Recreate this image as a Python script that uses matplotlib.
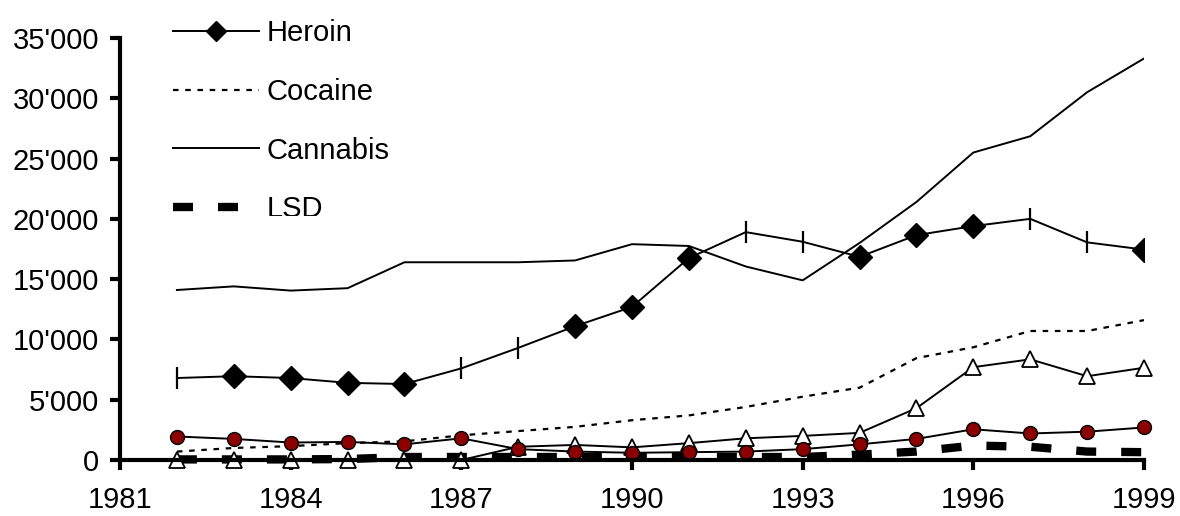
import matplotlib.pyplot as plt
import matplotlib.ticker as mticker
from matplotlib.patches import Rectangle

plt.rcParams['font.family'] = ['Liberation Sans', 'DejaVu Sans']

years = list(range(1982, 2000))
heroin = [6800, 6950, 6800, 6400, 6300, 7600, 9300, 11100, 12700, 16750,
          18900, 18100, 16850, 18650, 19400, 20000, 18050, 17450]
cocaine = [700, 1000, 1150, 1400, 1550, 2050, 2400, 2750, 3300, 3700,
           4400, 5250, 6000, 8450, 9350, 10700, 10700, 11600]
cannabis = [14100, 14400, 14050, 14250, 16400, 16400, 16400, 16550, 17900, 17750,
            16050, 14900, 18000, 21400, 25500, 26850, 30500, 33300]
lsd = [50, 50, 50, 80, 250, 250, 250, 250, 250, 250,
       250, 250, 450, 700, 1200, 1100, 700, 650]
triangles = [0, 0, 0, 0, 0, 0, 1100, 1250, 1050, 1400,
             1800, 2000, 2250, 4300, 7700, 8350, 6950, 7650]
circles = [1950, 1750, 1450, 1500, 1300, 1800, 900, 700, 600, 650,
           700, 900, 1300, 1750, 2550, 2200, 2350, 2700]

# heroin uses two marker shapes
diamond_idx = [1, 2, 3, 4, 7, 8, 9, 12, 13, 14, 17]
bar_idx = [0, 5, 6, 10, 11, 15, 16]

fig = plt.figure(figsize=(11.8, 5.16), dpi=100)
ax = fig.add_axes([0.1017, 0.1085, 0.8678, 0.8179])

ax.plot(years, cannabis, color='black', lw=1.4, label='Cannabis')
ax.plot(years, cocaine, color='black', lw=1.6, linestyle=(0, (2.5, 3)), label='Cocaine')
ax.plot(years, lsd, color='black', lw=6, linestyle=(0, (2.4, 3)), dash_capstyle='butt',
        label='LSD', clip_on=False)
ax.plot(years, triangles, color='black', lw=1.4, marker='^', markersize=11,
        markerfacecolor='white', markeredgecolor='black', markeredgewidth=1.3, clip_on=False)
ax.plot(years, circles, color='black', lw=1.4, marker='o', markersize=10,
        markerfacecolor='#8b0000', markeredgecolor='black', markeredgewidth=1.0, clip_on=False)
ax.plot(years, heroin, color='black', lw=1.4, marker='|', markersize=16, markeredgewidth=1.6,
        markevery=bar_idx)
ax.plot(years, heroin, color='none', marker='D', markersize=12, markerfacecolor='black',
        markeredgecolor='black', markevery=diamond_idx)
heroin_handle, = ax.plot([], [], color='black', lw=1.4, marker='D', markersize=10)

ax.set_xlim(1981, 1999)
ax.set_ylim(0, 35000)
ax.set_xticks(range(1981, 2000, 3))
ax.set_yticks(range(0, 35001, 5000))
ax.yaxis.set_major_formatter(mticker.FuncFormatter(lambda v, p: f"{int(v):,}".replace(',', "'")))

for s in ['top', 'right']:
    ax.spines[s].set_visible(False)
for s in ['left', 'bottom']:
    ax.spines[s].set_linewidth(3)
ax.tick_params(axis='both', direction='out', length=7, width=3, labelsize=21)
ax.tick_params(axis='y', pad=8)
ax.tick_params(axis='x', pad=12)

handles, labels = ax.get_legend_handles_labels()
hmap = dict(zip(labels, handles))
hmap['Heroin'] = heroin_handle
order = ['Heroin', 'Cocaine', 'Cannabis', 'LSD']
fig.legend([hmap[k] for k in order], order, loc='upper left', bbox_to_anchor=(0.137, 0.985),
           frameon=False, fontsize=21, handlelength=2.95, handletextpad=0.25,
           labelspacing=1.05, borderaxespad=0)

# the legend box is cut off just under the LSD label
fig.patches.append(Rectangle((0.215, 1 - 228 / 516), 0.09, 12 / 516,
                             transform=fig.transFigure, facecolor='white',
                             edgecolor='none', zorder=10))

fig.savefig('out.png', dpi=100)
